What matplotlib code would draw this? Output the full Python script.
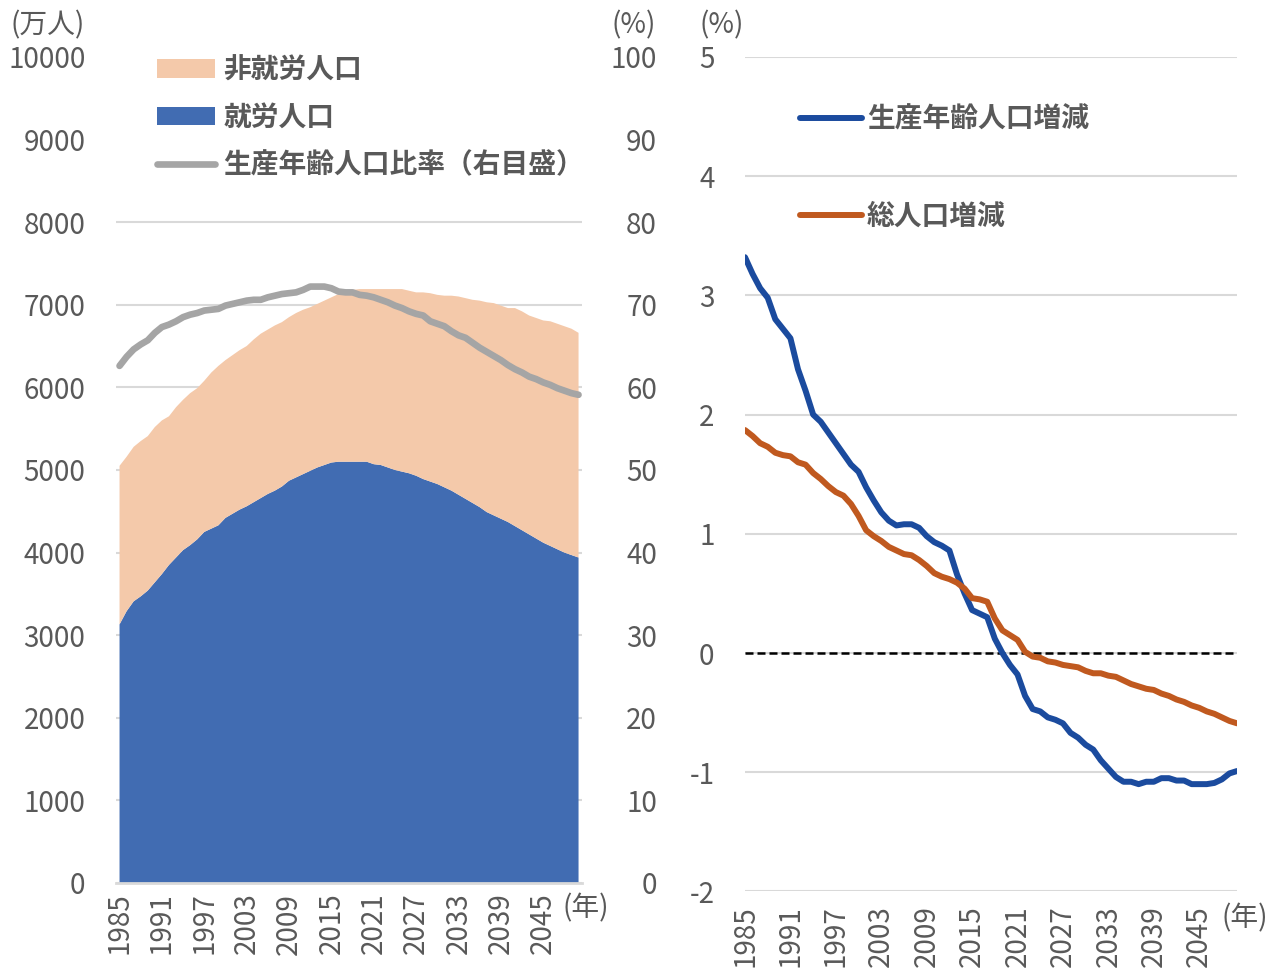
import matplotlib
matplotlib.use('Agg')
import matplotlib.pyplot as plt
from matplotlib.patches import Patch, Rectangle
from matplotlib.lines import Line2D

plt.rcParams['font.family'] = ['Noto Sans CJK JP', 'DejaVu Sans']
plt.rcParams['axes.unicode_minus'] = False

years = list(range(1985, 2051))

# 就労人口 (万人)
employed = [
    3130, 3290, 3410, 3470, 3540, 3640, 3740, 3850, 3940, 4030,
    4090, 4160, 4250, 4290, 4330, 4420, 4470, 4520, 4560, 4610,
    4660, 4710, 4750, 4800, 4870, 4910, 4950, 4990, 5030, 5060,
    5090, 5100, 5100, 5100, 5100, 5100, 5070, 5060, 5030, 5000,
    4980, 4960, 4930, 4890, 4860, 4830, 4790, 4750, 4700, 4650,
    4600, 4550, 4490, 4450, 4410, 4370, 4320, 4270, 4220, 4170,
    4120, 4080, 4040, 4000, 3970, 3940,
]

# 生産年齢人口 = 就労 + 非就労 (万人)
working_age = [
    5050, 5160, 5280, 5350, 5410, 5520, 5600, 5650, 5760, 5850,
    5930, 5990, 6080, 6180, 6260, 6330, 6390, 6450, 6500, 6580,
    6650, 6700, 6750, 6790, 6850, 6900, 6940, 6970, 7010, 7050,
    7090, 7130, 7160, 7180, 7190, 7190, 7190, 7190, 7190, 7190,
    7190, 7170, 7150, 7150, 7140, 7120, 7110, 7110, 7100, 7080,
    7060, 7050, 7030, 7020, 6990, 6960, 6960, 6920, 6870, 6840,
    6810, 6800, 6770, 6740, 6710, 6660,
]

# 生産年齢人口比率 (%)
working_age_ratio = [
    62.6, 63.7, 64.6, 65.2, 65.7, 66.6, 67.3, 67.6, 68.0, 68.5,
    68.8, 69.0, 69.3, 69.4, 69.5, 69.9, 70.1, 70.3, 70.5, 70.6,
    70.6, 70.9, 71.1, 71.3, 71.4, 71.5, 71.8, 72.2, 72.2, 72.2,
    72.0, 71.6, 71.5, 71.5, 71.2, 71.1, 70.9, 70.6, 70.3, 69.9,
    69.6, 69.2, 68.9, 68.7, 68.0, 67.7, 67.4, 66.8, 66.3, 66.0,
    65.4, 64.8, 64.3, 63.8, 63.3, 62.7, 62.2, 61.8, 61.3, 61.0,
    60.6, 60.3, 59.9, 59.6, 59.3, 59.1,
]

# 生産年齢人口増減 (%)
working_age_change = [
    3.32, 3.18, 3.06, 2.98, 2.80, 2.72, 2.64, 2.38, 2.20, 2.00,
    1.94, 1.85, 1.76, 1.67, 1.58, 1.52, 1.39, 1.28, 1.18, 1.11,
    1.07, 1.08, 1.08, 1.05, 0.98, 0.93, 0.90, 0.86, 0.66, 0.50,
    0.36, 0.33, 0.30, 0.12, 0.00, -0.10, -0.18, -0.36, -0.47, -0.49,
    -0.54, -0.56, -0.59, -0.67, -0.71, -0.77, -0.81, -0.90, -0.97, -1.04,
    -1.08, -1.08, -1.10, -1.08, -1.08, -1.05, -1.05, -1.07, -1.07, -1.10,
    -1.10, -1.10, -1.09, -1.06, -1.01, -0.99,
]

# 総人口増減 (%)
total_change = [
    1.87, 1.82, 1.76, 1.73, 1.68, 1.66, 1.65, 1.60, 1.58, 1.51,
    1.46, 1.40, 1.35, 1.32, 1.25, 1.15, 1.03, 0.98, 0.94, 0.89,
    0.86, 0.83, 0.82, 0.78, 0.73, 0.67, 0.64, 0.62, 0.59, 0.54,
    0.46, 0.45, 0.43, 0.29, 0.19, 0.15, 0.11, 0.01, -0.03, -0.04,
    -0.07, -0.08, -0.10, -0.11, -0.12, -0.15, -0.17, -0.17, -0.19, -0.20,
    -0.23, -0.26, -0.28, -0.30, -0.31, -0.34, -0.36, -0.39, -0.41, -0.44,
    -0.46, -0.49, -0.51, -0.54, -0.57, -0.59,
]

tick_years = list(range(1985, 2046, 6))

non_employed = [w - e for w, e in zip(working_age, employed)]

text_color = '#595959'
grid_color = '#D9D9D9'
fs = 20

fig = plt.figure(figsize=(12.79, 9.72), dpi=100)

# ---- 左: 就労/非就労人口と生産年齢人口比率 ----
ax = fig.add_axes([0.0907, 0.0916, 0.3644, 0.8498])
ax.stackplot(years, employed, non_employed, colors=['#416CB2', '#F4C9AA'], zorder=2)
ax.set_xlim(1984.5, 2050.5)
ax.set_ylim(0, 10000)
ax.set_yticks(range(0, 10001, 1000))
ax.grid(axis='y', color=grid_color, lw=1.5, zorder=0)
ax.set_axisbelow(True)
ax.set_xticks(tick_years)
ax.set_xticklabels([str(y) for y in tick_years], rotation=90)
for s in ['top', 'left', 'right']:
    ax.spines[s].set_visible(False)
ax.spines['bottom'].set_color(grid_color)
ax.spines['bottom'].set_linewidth(2)
ax.tick_params(axis='y', length=0, pad=22, labelsize=fs, labelcolor=text_color)
ax.tick_params(axis='x', length=0, pad=7, labelsize=fs, labelcolor=text_color)

# 凡例の背景 (上部の目盛線を隠す)
ax.add_patch(Rectangle((0, 0.845), 1.0, 0.16, transform=ax.transAxes,
                       facecolor='white', edgecolor='none', zorder=1, clip_on=False))

ax2 = ax.twinx()
ax2.plot(years, working_age_ratio, color='#A5A5A5', lw=4.8, solid_capstyle='round')
ax2.set_ylim(0, 100)
ax2.set_yticks(range(0, 101, 10))
for s in ax2.spines.values():
    s.set_visible(False)
ax2.tick_params(axis='y', length=0, pad=54, labelsize=fs, labelcolor=text_color)
for lbl in ax2.get_yticklabels():
    lbl.set_horizontalalignment('right')

handles = [
    Patch(facecolor='#F4C9AA', edgecolor='none'),
    Patch(facecolor='#416CB2', edgecolor='none'),
    Line2D([0], [0], color='#A5A5A5', lw=4.8, solid_capstyle='round'),
]
labels = ['非就労人口', '就労人口', '生産年齢人口比率（右目盛）']
leg = ax2.legend(handles, labels, loc='upper left', bbox_to_anchor=(0.064, 1.014),
                 borderaxespad=0, frameon=False,
                 handlelength=2.1, handleheight=0.65, handletextpad=0.3,
                 labelspacing=0.7, borderpad=0.4, prop={'weight': 'bold', 'size': fs})
for t in leg.get_texts():
    t.set_color(text_color)

fig.text(48 / 1279, 1 - 25 / 972, '(万人)', ha='center', va='center', fontsize=fs, color=text_color)
fig.text(634 / 1279, 1 - 25 / 972, '(%)', ha='center', va='center', fontsize=fs, color=text_color)
fig.text(586 / 1279, 1 - 908 / 972, '(年)', ha='center', va='center', fontsize=fs, color=text_color)

# ---- 右: 人口増減率 ----
ax3 = fig.add_axes([0.5825, 0.0829, 0.3847, 0.8585])
ax3.axhline(0, color='black', lw=1.8, ls=(0, (3.2, 1.6)), zorder=3)
ax3.plot(years, working_age_change, color='#1B4B9E', lw=4.3, zorder=4,
         solid_capstyle='round', label='生産年齢人口増減')
ax3.plot(years, total_change, color='#C0591F', lw=4.3, zorder=5,
         solid_capstyle='round', label='総人口増減')
ax3.set_xlim(1985, 2050)
ax3.set_ylim(-2, 5)
ax3.set_yticks(range(-2, 6))
ax3.grid(axis='y', color=grid_color, lw=1.5, zorder=0)
ax3.set_axisbelow(True)
ax3.set_xticks(tick_years)
ax3.set_xticklabels([str(y) for y in tick_years], rotation=90)
for s in ax3.spines.values():
    s.set_visible(False)
ax3.tick_params(axis='y', length=0, pad=22, labelsize=fs, labelcolor=text_color)
ax3.tick_params(axis='x', length=0, pad=10, labelsize=fs, labelcolor=text_color)

leg3 = ax3.legend(loc='upper left', bbox_to_anchor=(0.09, 0.955), borderaxespad=0,
                  frameon=False, handlelength=2.2, handletextpad=0.2,
                  labelspacing=2.5, prop={'weight': 'bold', 'size': fs})
for t in leg3.get_texts():
    t.set_color(text_color)

fig.text(722 / 1279, 1 - 25 / 972, '(%)', ha='center', va='center', fontsize=fs, color=text_color)
fig.text(1245 / 1279, 1 - 918 / 972, '(年)', ha='center', va='center', fontsize=fs, color=text_color)

fig.savefig('out.png', dpi=100)
